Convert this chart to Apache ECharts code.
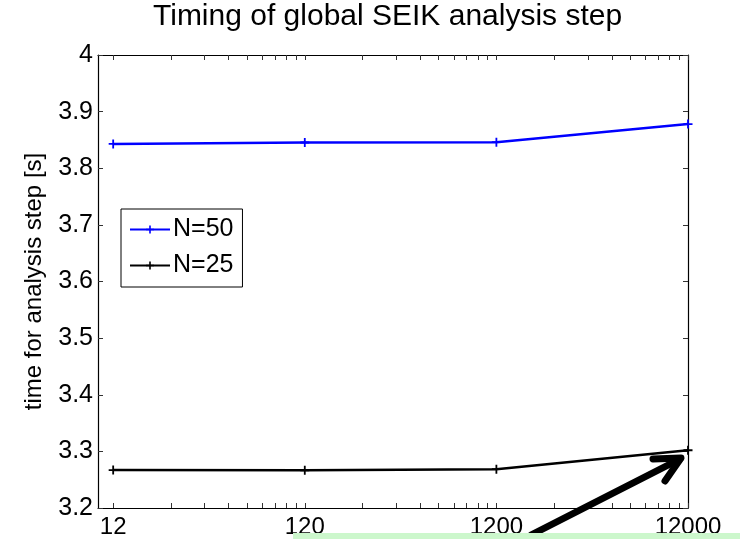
<!DOCTYPE html>
<html>
<head>
<meta charset="utf-8">
<script src="https://cdn.jsdelivr.net/npm/echarts@6/dist/echarts.min.js"></script>
<style>
  html, body { margin: 0; padding: 0; background: #fff; }
  #chart { width: 742px; height: 539px; }
</style>
</head>
<body>
<div id="chart"></div>
<script>
// data
const xValues = [12, 120, 1200, 12000]
const n50 = [3.843, 3.8455, 3.846, 3.878]
const n25 = [3.267, 3.2665, 3.2685, 3.302]
const xLabelTicks = [12, 120, 1200, 12000]
const xMinorTicks = [
  24, 36, 48, 60, 72, 84, 96, 108,
  240, 360, 480, 600, 720, 840, 960, 1080,
  2400, 3600, 4800, 6000, 7200, 8400, 9600, 10800
]
const seriesNames = ['N=50', 'N=25']

const font = 'Liberation Sans, Arial, Helvetica, sans-serif'
const plus = 'path://M4,0H6V4H10V6H6V10H4V6H0V4H4Z'

const chart = echarts.init(document.getElementById('chart'))

const xBase = (pos, showLabel) => ({
  type: 'log',
  logBase: 10,
  min: 10,
  max: 12000,
  position: pos,
  axisLine: { show: true, onZero: false, lineStyle: { color: '#000', width: 1.2 } },
  axisTick: {
    show: true,
    inside: true,
    length: 5,
    customValues: xLabelTicks.concat(xMinorTicks),
    lineStyle: { color: '#333' }
  },
  axisLabel: {
    show: showLabel,
    customValues: xLabelTicks,
    color: '#000',
    fontSize: 24,
    fontFamily: font,
    margin: 7,
    formatter: v => String(Math.round(v))
  },
  splitLine: { show: false },
  minorTick: { show: false }
})

const yBase = (pos, showLabel) => ({
  type: 'value',
  min: 3.2,
  max: 4,
  interval: 0.1,
  position: pos,
  name: showLabel ? 'time for analysis step [s]' : '',
  nameLocation: 'middle',
  nameGap: 52,
  nameTextStyle: { color: '#000', fontSize: 24, fontFamily: font },
  axisLine: { show: true, onZero: false, lineStyle: { color: '#000', width: 1.2 } },
  axisTick: { show: true, inside: true, length: 5, lineStyle: { color: '#333' } },
  axisLabel: {
    show: showLabel,
    color: '#000',
    fontSize: 25,
    fontFamily: font,
    margin: 5,
    formatter: v => String(Math.round(v * 10) / 10)
  },
  splitLine: { show: false }
})

const makeSeries = (name, values, color) => ({
  name: name,
  type: 'line',
  data: xValues.map((x, i) => [x, values[i]]),
  symbol: plus,
  symbolSize: 9,
  showAllSymbol: true,
  lineStyle: { color: color, width: 2.5 },
  itemStyle: { color: color },
  z: 3
})

const option = {
  backgroundColor: '#fff',
  animation: false,
  title: {
    text: 'Timing of global SEIK analysis step',
    left: 148,
    top: -3,
    textStyle: { color: '#000', fontSize: 30, fontWeight: 'normal', fontFamily: font }
  },
  grid: { left: 98, right: 54, top: 55, bottom: 30 },
  legend: {
    orient: 'vertical',
    left: 121,
    top: 209,
    data: seriesNames,
    backgroundColor: '#fff',
    borderColor: '#000',
    borderWidth: 1,
    borderRadius: 0,
    padding: [8, 9, 9, 8],
    itemGap: 11,
    itemWidth: 40,
    itemHeight: 10,
    textStyle: { color: '#000', fontSize: 25, fontFamily: font, padding: [0, 0, 0, -2] }
  },
  xAxis: [xBase('bottom', true), xBase('top', false)],
  yAxis: [yBase('left', true), yBase('right', false)],
  series: [
    makeSeries(seriesNames[0], n50, '#0000ff'),
    makeSeries(seriesNames[1], n25, '#000000')
  ],
  graphic: [
    {
      type: 'polyline',
      z: 100,
      shape: { points: [[531, 535], [680, 459]] },
      style: { stroke: '#000', lineWidth: 7, lineCap: 'round', fill: null }
    },
    {
      type: 'polyline',
      z: 100,
      shape: { points: [[653, 459], [681, 458], [665, 481]] },
      style: { stroke: '#000', lineWidth: 7, lineCap: 'round', lineJoin: 'round', fill: null }
    },
    {
      type: 'rect',
      z: 101,
      shape: { x: 293, y: 533, width: 447, height: 6 },
      style: { fill: '#ccf7cc' }
    }
  ]
}

chart.setOption(option)
</script>
</body>
</html>
